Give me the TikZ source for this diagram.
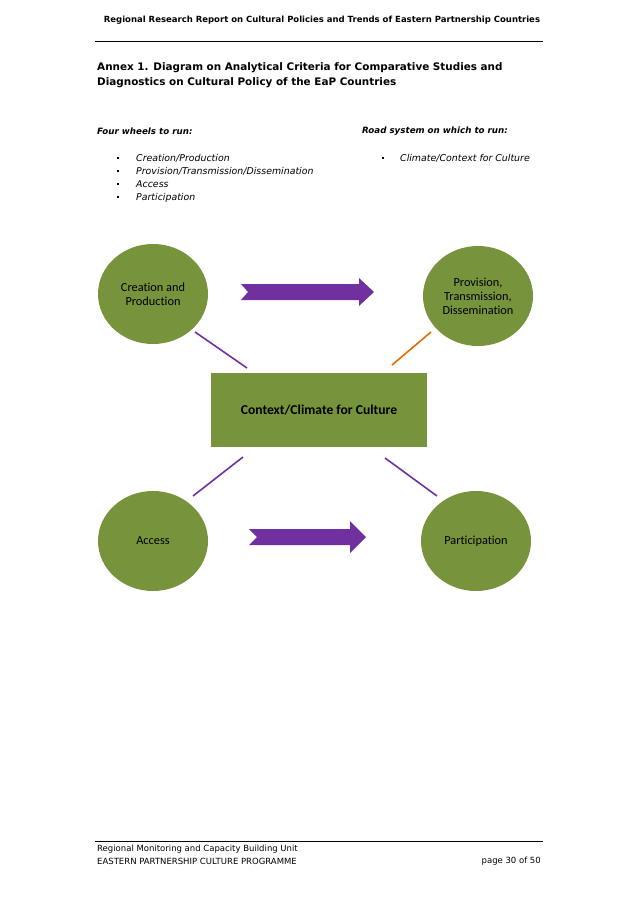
\documentclass[tikz,border=0pt]{standalone}
\usepackage{fontspec}
\setmainfont{DejaVu Sans}
\newfontfamily\calibri[Ligatures=NoCommon]{Carlito}
\usetikzlibrary{shapes.geometric,positioning,calc}

\definecolor{olive}{HTML}{77933C}
\definecolor{violet}{HTML}{7030A0}
\definecolor{carrot}{HTML}{E46C0A}

\tikzset{
	wheel/.style={ellipse, fill=olive, minimum width=110pt, minimum height=100pt, inner sep=0pt, align=center, font=\calibri\fontsize{12.3}{14}\selectfont},
	road/.style={rectangle, fill=olive, minimum width=216pt, minimum height=74pt, font=\calibri\bfseries\fontsize{13.6}{15}\selectfont},
	spoke/.style={violet, line width=1.6pt},
	bigarrow/.style={fill=violet, draw=none},
	item/.style={anchor=base west, inner sep=0pt, font=\itshape\fontsize{9.4}{9}\selectfont},
	dot/.style={rectangle, fill=black, inner sep=0pt, minimum size=2.4pt}
}

\begin{document}
\begin{tikzpicture}[x=1pt, y=-1pt]
			\useasboundingbox (0,0) rectangle (638,903);
			% page head
			\node [font=\bfseries\fontsize{8.5}{9}\selectfont] (head) at (322,20.5) {Regional Research Report on Cultural Policies and Trends of Eastern Partnership Countries};
			\draw[line width=1pt] (95,41) -- (543,41);
			\node [anchor=north west, align=left, inner sep=0pt, font=\bfseries\fontsize{10.4}{15}\selectfont] (title) at (97,62) {Annex 1. Diagram on Analytical Criteria for Comparative Studies and\\ Diagnostics on Cultural Policy of the EaP Countries};
			
			% lists
			\node [anchor=west, inner sep=0pt, font=\bfseries\itshape\fontsize{8.7}{9}\selectfont] (wheels) at (97,131) {Four wheels to run:};
			\node [anchor=west, inner sep=0pt, font=\bfseries\itshape\fontsize{8.7}{9}\selectfont] (roads) at (362,131) {Road system on which to run:};
			\foreach \y/\t in {158/Creation\slash Production, 171/Provision\slash Transmission\slash Dissemination, 184/Access, 197/Participation}{
				\node [dot] at (118,\y) {};
				\node [item] at (136,\y+3.3) {\t};
			}
			\node [dot] (rdot) at (383,158) {};
			\node [item] (ritem) at (400,161.3) {Climate\slash Context for Culture};
			
			% diagram
			\node [wheel] (create) at (153,294) {Creation and\\Production};
			\node [wheel] (provide) at (478,296) {Provision,\\Transmission,\\Dissemination};
			\node [wheel] (access) at (153,541) {Access};
			\node [wheel] (take) at (476,541) {Participation};
			\node [road] (climate) at (319,410) {Context/Climate for Culture};
			
			\coordinate (cA) at (195,332); \coordinate (cB) at (247,368);
			\coordinate (pA) at (431,332); \coordinate (pB) at (392,365);
			\coordinate (aA) at (193,496); \coordinate (aB) at (243,457);
			\coordinate (tA) at (437,496); \coordinate (tB) at (385,458);
			\draw[spoke] (cA) -- (cB);
			\draw[spoke, carrot] (pA) -- (pB);
			\draw[spoke] (aA) -- (aB);
			\draw[spoke] (tA) -- (tB);
			
			\fill[bigarrow] (241,284) -- (248,292) -- (241,300) -- (359,300) -- (359,306) -- (374,292) -- (359,278) -- (359,284) -- cycle;
			\fill[bigarrow] (249,529) -- (257,537) -- (249,545) -- (350,545) -- (350,553) -- (366,537) -- (350,521) -- (350,529) -- cycle;
			
			% page foot
			\draw[line width=1pt] (95,841) -- (543,841);
			\node [anchor=west, align=left, inner sep=0pt, font=\fontsize{8.5}{13}\selectfont] (unit) at (97,854.5) {Regional Monitoring and Capacity Building Unit\\ EASTERN PARTNERSHIP CULTURE PROGRAMME};
			\node [anchor=east, inner sep=0pt, font=\fontsize{8.5}{9}\selectfont] (page) at (541,861) {page 30 of 50};
			
		\end{tikzpicture}
\end{document}
